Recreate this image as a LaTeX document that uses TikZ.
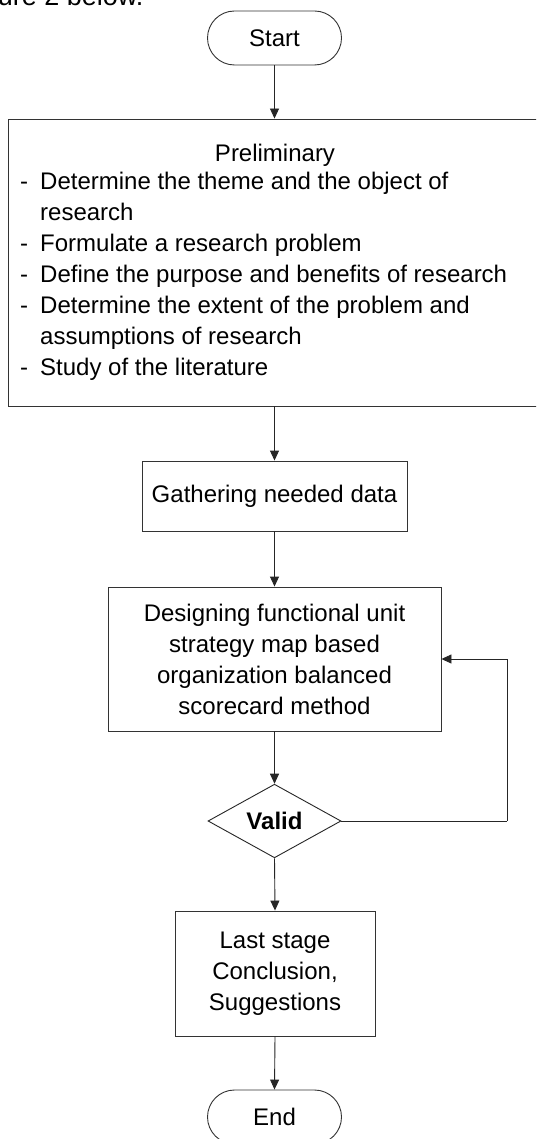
\documentclass[tikz,border=0pt]{standalone}
\usepackage{fontspec}
\setmainfont{Liberation Sans}
\usetikzlibrary{shapes.geometric,shapes.misc,arrows.meta}
\tikzset{
  x=1pt, y=-1pt,
  txt/.style={font=\fontsize{24}{31}\selectfont},
  boxstyle/.style={draw=black!80, line width=0.9pt, rectangle, inner sep=0pt, align=center, txt},
  termstyle/.style={draw=black!80, line width=0.9pt, rounded rectangle, inner sep=0pt, txt, minimum width=134pt, minimum height=54pt},
  decstyle/.style={draw=black!85, line width=0.9pt, diamond, inner sep=0pt, txt, minimum width=133pt, minimum height=72pt},
  arr/.style={draw=black!85, line width=0.9pt, -{Triangle[width=9pt,length=10pt]}},
  ln/.style={draw=black!85, line width=0.9pt}
}
\begin{document}
\begin{tikzpicture}
\useasboundingbox (0,0) rectangle (536,1139);
\clip (0,0) rectangle (536,1139);
\fill[white] (0,0) rectangle (536,1139);

\node[font=\fontsize{27}{31}\selectfont, anchor=base east] (cap) at (147,6) {Figure 2 below.};

\node[termstyle] (start) at (274.5,38) {Start};

\node[boxstyle, minimum width=552pt, minimum height=287pt] (prelim) at (284.5,262.5) {};
\node[txt, anchor=base] (phead) at (275,162) {Preliminary};
\node[txt, anchor=north west, align=left, inner sep=0pt] (plist) at (20,171.5) {%
\makebox[20pt][l]{-}Determine the theme and the object of\\
\hspace*{20pt}research\\
\makebox[20pt][l]{-}Formulate a research problem\\
\makebox[20pt][l]{-}Define the purpose and benefits of research\\
\makebox[20pt][l]{-}Determine the extent of the problem and\\
\hspace*{20pt}assumptions of research\\
\makebox[20pt][l]{-}Study of the literature};

\node[boxstyle, minimum width=265pt, minimum height=70pt] (gather) at (274.5,496) {Gathering needed data};

\node[boxstyle, minimum width=333pt, minimum height=144pt] (design) at (274.5,659)
  {Designing functional unit\\strategy map based\\organization balanced\\scorecard method};

\node[decstyle] (valid) at (274.5,821) {\bfseries Valid};

\node[boxstyle, minimum width=200pt, minimum height=125pt] (last) at (275,973.5)
  {Last stage\\Conclusion,\\Suggestions};

\node[termstyle] (end) at (274.5,1117) {End};

\coordinate (loopc) at (507,821);

\draw[arr] (start.south) -- (start.south |- prelim.north);
\draw[arr] (gather.north |- prelim.south) -- (gather.north);
\draw[arr] (gather.south) -- (design.north);
\draw[arr] (design.south) -- (valid.north);
\draw[ln] (valid.east) -- (loopc);
\draw[arr] (loopc) |- (design.east);
\draw[arr] (valid.south) -- (last.north);
\draw[arr] (last.south) -- (end.north);
\end{tikzpicture}
\end{document}
